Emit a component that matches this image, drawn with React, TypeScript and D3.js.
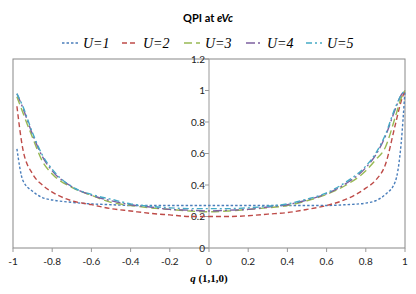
import React from 'react'
import * as d3 from 'd3'

// sample positions along q (1,1,0)
const qValues = [-0.98, -0.95, -0.9, -0.85, -0.8, -0.7, -0.6, -0.5, -0.4, -0.3, -0.2, -0.1, 0, 0.1, 0.2, 0.3, 0.4, 0.5, 0.6, 0.7, 0.8, 0.85, 0.9, 0.95, 0.98, 1.0]

const u1 = [0.63, 0.43, 0.36, 0.32, 0.305, 0.29, 0.28, 0.275, 0.27, 0.27, 0.27, 0.27, 0.27, 0.27, 0.27, 0.27, 0.27, 0.27, 0.27, 0.275, 0.285, 0.3, 0.34, 0.42, 0.66, 1.0]
const u2 = [0.9, 0.63, 0.47, 0.4, 0.355, 0.3, 0.275, 0.25, 0.235, 0.22, 0.21, 0.2, 0.2, 0.2, 0.205, 0.215, 0.225, 0.245, 0.27, 0.31, 0.38, 0.43, 0.53, 0.78, 0.93, 1.0]
const u3 = [0.96, 0.86, 0.7, 0.55, 0.47, 0.385, 0.335, 0.29, 0.27, 0.255, 0.245, 0.235, 0.23, 0.235, 0.245, 0.255, 0.27, 0.3, 0.34, 0.4, 0.49, 0.56, 0.64, 0.83, 0.95, 1.0]
const u4 = [0.98, 0.89, 0.72, 0.58, 0.49, 0.39, 0.335, 0.3, 0.275, 0.26, 0.245, 0.24, 0.235, 0.24, 0.245, 0.26, 0.275, 0.305, 0.345, 0.41, 0.51, 0.59, 0.71, 0.88, 0.97, 1.0]
const u5 = [0.98, 0.9, 0.73, 0.59, 0.5, 0.39, 0.34, 0.31, 0.28, 0.265, 0.255, 0.25, 0.25, 0.25, 0.255, 0.265, 0.28, 0.31, 0.35, 0.42, 0.52, 0.6, 0.72, 0.89, 0.97, 1.0]

const seriesNames = ['U=1', 'U=2', 'U=3', 'U=4', 'U=5']
const seriesValues = [u1, u2, u3, u4, u5]
const seriesColors = ['#4a7ebb', '#be4b48', '#98b954', '#7d60a0', '#46aac5']
const seriesDash = ['2.5,2', '5,3', '8,4', '9,3,2,3', '6,3,2,3']

const xTicks = [-1, -0.8, -0.6, -0.4, -0.2, 0, 0.2, 0.4, 0.6, 0.8, 1]
const yTicks = [0, 0.2, 0.4, 0.6, 0.8, 1, 1.2]

const W = 416
const H = 294
const plot = { left: 13, right: 405, top: 59, bottom: 248 }

export default function App() {
  const x = d3.scaleLinear().domain([-1, 1]).range([plot.left, plot.right])
  const y = d3.scaleLinear().domain([0, 1.2]).range([plot.bottom, plot.top])

  const line = d3.line<number>()
    .x((d, i) => x(qValues[i]))
    .y(d => y(d))
    .curve(d3.curveMonotoneX)

  const tickFont = 'Lato, "Open Sans", sans-serif'
  // legend positions
  const legendX = [62, 122, 184, 246, 306]

  return (
    <svg width={W} height={H} style={{ position: 'absolute', left: 0, top: 0, background: '#fff' }}>
      <text x={208} y={22} textAnchor="middle" fontFamily={tickFont} fontWeight="bold" fontSize={11}>
        QPI at <tspan fontStyle="italic">eVc</tspan>
      </text>

      {seriesNames.map((name, i) => (
        <g key={name} transform={`translate(${legendX[i]},43)`}>
          <line x1={0} x2={16} y1={0} y2={0} stroke={seriesColors[i]} strokeWidth={1.3} strokeDasharray={seriesDash[i]} />
          <text x={21} y={5} fontFamily='"Liberation Serif", "DejaVu Serif", serif' fontStyle="italic" fontSize={14}>
            {name}
          </text>
        </g>
      ))}

      <rect x={plot.left} y={plot.top} width={plot.right - plot.left} height={plot.bottom - plot.top}
        fill="none" stroke="#888" strokeWidth={1} />

      {/* y axis at q = 0 */}
      <line x1={x(0)} x2={x(0)} y1={plot.top} y2={plot.bottom} stroke="#999" strokeWidth={1} />
      {yTicks.map(t => (
        <g key={t}>
          <line x1={x(0) - 4} x2={x(0)} y1={y(t)} y2={y(t)} stroke="#999" />
          <text x={x(0) - 4} y={y(t) + 3.5} textAnchor="end" fontFamily={tickFont} fontSize={10} fill="#222">
            {t}
          </text>
        </g>
      ))}

      {xTicks.map(t => (
        <g key={t}>
          <line x1={x(t)} x2={x(t)} y1={plot.bottom} y2={plot.bottom + 4} stroke="#999" />
          <text x={x(t)} y={plot.bottom + 17} textAnchor="middle" fontFamily={tickFont} fontSize={10} fill="#222">
            {t}
          </text>
        </g>
      ))}

      <text x={x(0)} y={282} textAnchor="middle" fontFamily='"Liberation Serif", serif' fontWeight="bold" fontSize={11}>
        <tspan fontStyle="italic">q</tspan> (1,1,0)
      </text>

      {seriesValues.map((vals, i) => (
        <path key={seriesNames[i]} d={line(vals) || ''} fill="none" stroke={seriesColors[i]}
          strokeWidth={1.4} strokeDasharray={seriesDash[i]} />
      ))}
    </svg>
  )
}
